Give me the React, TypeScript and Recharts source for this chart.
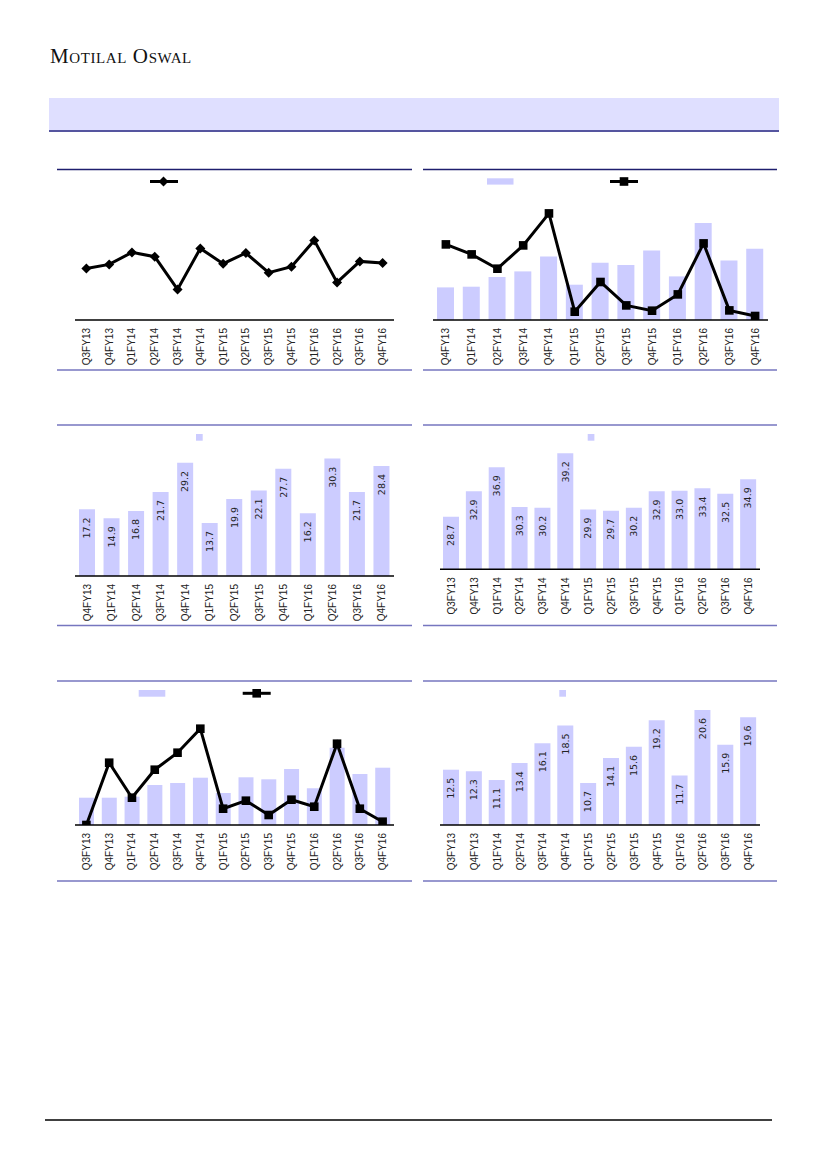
import React from 'react';
import { ComposedChart, Bar, Line, XAxis, YAxis, LabelList } from 'recharts';

// ---- categories ----
const quarters14 = ['Q3FY13', 'Q4FY13', 'Q1FY14', 'Q2FY14', 'Q3FY14', 'Q4FY14', 'Q1FY15', 'Q2FY15', 'Q3FY15', 'Q4FY15', 'Q1FY16', 'Q2FY16', 'Q3FY16', 'Q4FY16'];
const quarters13 = ['Q4FY13', 'Q1FY14', 'Q2FY14', 'Q3FY14', 'Q4FY14', 'Q1FY15', 'Q2FY15', 'Q3FY15', 'Q4FY15', 'Q1FY16', 'Q2FY16', 'Q3FY16', 'Q4FY16'];

// ---- series (unlabelled series are estimated) ----
const chart1Line = [5.16, 5.56, 6.76, 6.33, 3.06, 7.16, 5.63, 6.7, 4.73, 5.33, 7.96, 3.76, 5.86, 5.7];
const chart2Bars = [3.26, 3.33, 4.3, 4.86, 6.36, 3.53, 5.73, 5.5, 6.96, 4.36, 9.7, 5.96, 7.13];
const chart2Line = [7.56, 6.56, 5.13, 7.46, 10.66, 0.83, 3.8, 1.46, 0.93, 2.56, 7.66, 0.96, 0.4];
const chart3Bars = [17.2, 14.9, 16.8, 21.7, 29.2, 13.7, 19.9, 22.1, 27.7, 16.2, 30.3, 21.7, 28.4];
const chart4Bars = [28.7, 32.9, 36.9, 30.3, 30.2, 39.2, 29.9, 29.7, 30.2, 32.9, 33.0, 33.4, 32.5, 34.9];
const chart5Bars = [2.73, 2.73, 2.83, 4.0, 4.2, 4.73, 3.2, 4.77, 4.57, 5.6, 3.67, 7.73, 5.1, 5.73];
const chart5Line = [0, 6.23, 2.73, 5.53, 7.23, 9.63, 1.63, 2.43, 1.0, 2.53, 1.83, 8.13, 1.63, 0.33];
const chart6Bars = [12.5, 12.3, 11.1, 13.4, 16.1, 18.5, 10.7, 14.1, 15.6, 19.2, 11.7, 20.6, 15.9, 19.6];

const BAR = '#ccccff';
const NAVY = '#1e1e6e';
const PURPLE = '#7676bf';
const SANS = '"Liberation Sans", Arial, sans-serif';
const LABEL_FONT = '"DejaVu Sans", Verdana, sans-serif';

const rows = (cats: string[], bars?: number[], line?: number[]) =>
  cats.map((c, i) => ({ cat: c, bar: bars ? bars[i] : undefined, line: line ? line[i] : undefined }));

const Tick = (props: any) => {
  const { x, y, payload } = props;
  const ty = y + 8;
  return (
    <text x={x} y={ty} transform={`rotate(-90 ${x} ${ty})`} textAnchor="end" dy="0.35em" fontSize={10} fontFamily={SANS} fill="#222">
      {payload.value}
    </text>
  );
};

const BarLabel = (props: any) => {
  const { x, y, width, value } = props;
  const cx = x + width / 2;
  const ty = y + 8;
  return (
    <text x={cx} y={ty} transform={`rotate(-90 ${cx} ${ty})`} textAnchor="end" dy="0.35em" fontSize={9.5} fontFamily={LABEL_FONT} fill="#222">
      {Number(value).toFixed(1)}
    </text>
  );
};

const Diamond = (props: any) => {
  const { cx, cy } = props;
  if (cx == null || cy == null) return null;
  const r = 5;
  return <polygon points={`${cx},${cy - r} ${cx + r},${cy} ${cx},${cy + r} ${cx - r},${cy}`} fill="#000" />;
};

const Square = (props: any) => {
  const { cx, cy } = props;
  if (cx == null || cy == null) return null;
  const r = 4.3;
  return <rect x={cx - r} y={cy - r} width={r * 2} height={r * 2} fill="#000" />;
};

type PanelProps = {
  left: number; top: number; width: number; height: number;
  margin: { top: number; right: number; bottom: number; left: number };
  data: any[]; domain: [number, number];
  hasBar?: boolean; hasLine?: boolean; labels?: boolean; barSize?: number; dot?: any;
};

const Panel = (p: PanelProps) => (
  <div style={{ position: 'absolute', left: p.left, top: p.top, width: p.width, height: p.height }}>
    <ComposedChart width={p.width} height={p.height} data={p.data} margin={p.margin}>
      <XAxis dataKey="cat" type="category" scale="band" interval={0} tickLine={false} tickSize={0} tickMargin={0} height={40}
        axisLine={{ stroke: '#000', strokeWidth: 1.5 }} tick={<Tick />} />
      <YAxis hide domain={p.domain} allowDataOverflow />
      {p.hasBar && (
        <Bar dataKey="bar" fill={BAR} barSize={p.barSize} isAnimationActive={false}>
          {p.labels && <LabelList dataKey="bar" content={<BarLabel />} />}
        </Bar>
      )}
      {p.hasLine && (
        <Line dataKey="line" type="linear" stroke="#000" strokeWidth={3} dot={p.dot} activeDot={false} isAnimationActive={false} />
      )}
    </ComposedChart>
  </div>
);

const Rule = ({ x1, x2, y, color, w = 1.5 }: any) => <line x1={x1} x2={x2} y1={y} y2={y} stroke={color} strokeWidth={w} />;

export default function App() {
  return (
    <div style={{ position: 'absolute', left: 0, top: 0, width: 827, height: 1169, background: '#fff', overflow: 'hidden' }}>
      <svg width={827} height={1169} style={{ position: 'absolute', left: 0, top: 0 }}>
        <text x={50} y={63} fontFamily='"Liberation Serif", "Times New Roman", serif' fontSize={21} letterSpacing={0.6}
          style={{ fontVariant: 'small-caps' }} fill="#111">Motilal Oswal</text>
        <rect x={49} y={98} width={730} height={33} fill="#dfdfff" />
        <Rule x1={49} x2={779} y={131} color="#55559f" w={2} />

        {/* panel rules */}
        <Rule x1={57} x2={412} y={169.5} color={NAVY} />
        <Rule x1={423} x2={777} y={169.5} color={NAVY} />
        <Rule x1={57} x2={412} y={370} color={PURPLE} />
        <Rule x1={423} x2={777} y={370} color={PURPLE} />
        <Rule x1={57} x2={412} y={425} color={PURPLE} />
        <Rule x1={423} x2={777} y={425} color={PURPLE} />
        <Rule x1={57} x2={412} y={625.5} color={PURPLE} />
        <Rule x1={423} x2={777} y={625.5} color={PURPLE} />
        <Rule x1={57} x2={412} y={681} color={PURPLE} />
        <Rule x1={423} x2={777} y={681} color={PURPLE} />
        <Rule x1={57} x2={412} y={881} color={PURPLE} />
        <Rule x1={423} x2={777} y={881} color={PURPLE} />

        {/* legends */}
        <line x1={150} x2={178} y1={181.5} y2={181.5} stroke="#000" strokeWidth={3} />
        <Diamond cx={163.5} cy={181.5} />
        <rect x={487} y={178.3} width={26.5} height={6.3} fill={BAR} />
        <line x1={610} x2={638} y1={181.5} y2={181.5} stroke="#000" strokeWidth={3} />
        <Square cx={624} cy={181.5} />
        <rect x={196} y={434} width={6.7} height={6.7} fill={BAR} />
        <rect x={587.7} y={434} width={6.7} height={6.7} fill={BAR} />
        <rect x={138.7} y={690} width={26.6} height={6.7} fill={BAR} />
        <line x1={242.7} x2={270.7} y1={693.3} y2={693.3} stroke="#000" strokeWidth={3} />
        <Square cx={256.7} cy={693.3} />
        <rect x={559.3} y={690} width={6.7} height={6.7} fill={BAR} />

        <line x1={45} x2={772} y1={1120} y2={1120} stroke="#000" strokeWidth={1.3} />
      </svg>

      <Panel left={57} top={170} width={355} height={200} margin={{ top: 10, right: 18, bottom: 10, left: 18 }}
        data={rows(quarters14, undefined, chart1Line)} domain={[0, 14]} hasLine dot={<Diamond />} />
      <Panel left={423} top={170} width={354} height={200} margin={{ top: 10, right: 9, bottom: 10, left: 10 }}
        data={rows(quarters13, chart2Bars, chart2Line)} domain={[0, 14]} hasBar hasLine barSize={17} dot={<Square />} />
      <Panel left={57} top={426} width={355} height={200} margin={{ top: 14.4, right: 18, bottom: 10, left: 18 }}
        data={rows(quarters13, chart3Bars)} domain={[0, 35]} hasBar labels barSize={16} />
      <Panel left={423} top={426} width={354} height={200} margin={{ top: 10.4, right: 17, bottom: 16.7, left: 17 }}
        data={rows(quarters14, chart4Bars)} domain={[20, 42]} hasBar labels barSize={16} />
      <Panel left={57} top={681} width={355} height={200} margin={{ top: 24, right: 18, bottom: 16, left: 18 }}
        data={rows(quarters14, chart5Bars, chart5Line)} domain={[0, 12]} hasBar hasLine barSize={15} dot={<Square />} />
      <Panel left={423} top={681} width={354} height={200} margin={{ top: 11.3, right: 17, bottom: 16, left: 17 }}
        data={rows(quarters14, chart6Bars)} domain={[5, 23]} hasBar labels barSize={16} />
    </div>
  );
}
